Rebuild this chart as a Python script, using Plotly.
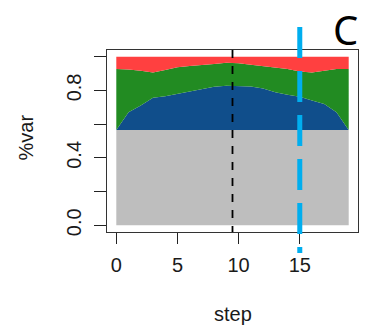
import plotly.graph_objects as go

steps = list(range(20))
gray_top = [0.566] * 20
blue_top = [0.566, 0.670, 0.710, 0.756, 0.765, 0.779, 0.795, 0.809, 0.822, 0.828,
            0.828, 0.824, 0.812, 0.789, 0.775, 0.763, 0.740, 0.720, 0.670, 0.566]
green_top = [0.927, 0.925, 0.917, 0.907, 0.921, 0.937, 0.945, 0.949, 0.957, 0.964,
             0.961, 0.953, 0.945, 0.937, 0.927, 0.913, 0.907, 0.917, 0.927, 0.927]
red_top = [1.0] * 20

x_ticks = [0, 5, 10, 15]
y_ticks = [0.0, 0.2, 0.4, 0.6, 0.8, 1.0]
y_ticktext = ["0.0", "", "0.4", "", "0.8", ""]
black_vline = 9.5
blue_vline = 15

W, H = 365, 332
L, R, T, B = 107, 7, 50, 100
ph = H - T - B
pw = W - L - R

def py(ypix):
    return (H - B - ypix) / ph

def px(xpix):
    return (xpix - L) / pw

fig = go.Figure()
layers = [(gray_top, "#BEBEBE", "tozeroy"),
          (blue_top, "#104E8B", "tonexty"),
          (green_top, "#228B22", "tonexty"),
          (red_top, "#FF4040", "tonexty")]
for vals, col, fill in layers:
    fig.add_trace(go.Scatter(x=steps, y=vals, mode="lines", fill=fill,
                             fillcolor=col, line=dict(width=0, color=col),
                             hoverinfo="skip", showlegend=False))

fig.add_shape(type="line", xref="x", yref="paper", x0=black_vline, x1=black_vline,
              y0=1, y1=0, line=dict(color="black", width=1.8, dash="8px,8px"))
fig.add_shape(type="line", xref="x", yref="paper", x0=blue_vline, x1=blue_vline,
              y0=py(27), y1=py(253), line=dict(color="#00AEEF", width=5, dash="31px,13px"))

tickfont = dict(family="Liberation Sans, Arial, sans-serif", size=20, color="#1a1a1a")
fig.update_xaxes(range=[-0.76, 19.76], tickvals=x_ticks, ticks="outside", ticklen=11,
                 tickwidth=1.2, tickcolor="#222", showline=True, mirror=True,
                 linecolor="#333", linewidth=1.3, showgrid=False, zeroline=False,
                 tickfont=tickfont, ticklabelstandoff=4)
fig.update_yaxes(range=[-0.04, 1.04], tickvals=y_ticks, ticktext=y_ticktext,
                 ticks="outside", ticklen=12, tickwidth=1.2, tickcolor="#222",
                 showline=True, mirror=True, linecolor="#333", linewidth=1.3,
                 showgrid=False, zeroline=False, tickangle=-90, tickfont=tickfont,
                 ticklabelstandoff=5)

fig.add_annotation(text="step", xref="paper", yref="paper", x=0.5, y=py(314),
                   showarrow=False, xanchor="center", yanchor="middle", font=tickfont)
fig.add_annotation(text="%var", xref="paper", yref="paper", x=px(25), y=py(137.5),
                   showarrow=False, textangle=-90, xanchor="center", yanchor="middle",
                   font=tickfont)
fig.add_annotation(text="C", xref="paper", yref="paper", x=px(345), y=py(0),
                   showarrow=False, xanchor="center", yanchor="top",
                   font=dict(family="Noto Sans", size=40, color="black"))

fig.update_layout(width=W, height=H, margin=dict(l=L, r=R, t=T, b=B),
                  plot_bgcolor="white", paper_bgcolor="white")
fig.write_html("out.html", config={"displayModeBar": False},
               post_script="document.body.style.margin='0';document.body.style.padding='0';"
                           "document.documentElement.style.overflow='hidden';")
